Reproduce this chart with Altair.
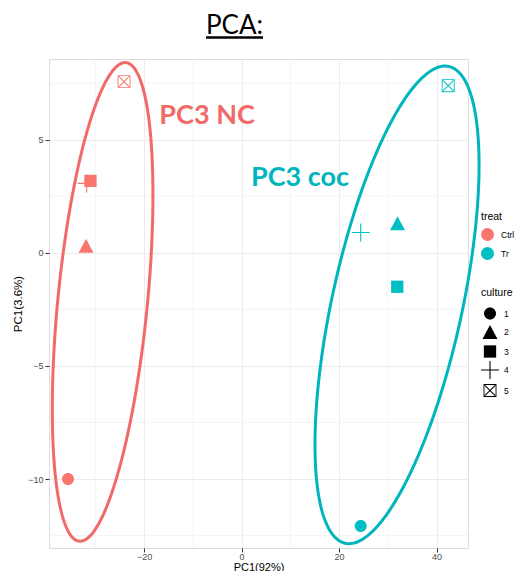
import altair as alt
import numpy as np
import pandas as pd

# ---- data ----
cultures = ["1", "2", "3", "4", "5"]
treats = ["Ctrl", "Tr"]
ctrl_pc1 = [-35.6, -31.9, -31.0, -31.75, -24.1]
ctrl_pc2 = [-10.0, 0.31, 3.18, 3.07, 7.57]
tr_pc1 = [24.45, 32.0, 31.95, 24.45, 42.4]
tr_pc2 = [-12.08, 1.31, -1.50, 0.90, 7.39]

treat_colors = ["#F8766D", "#00BFC4"]

# hand-drawn ellipses (center, semi-major vector, semi-minor vector) in data units
ell_group = ["Ctrl", "Tr"]
ell_color = ["#F26A67", "#00B5BD"]
ell_cx = [-28.5, 31.9]
ell_cy = [-2.17, -2.30]
ell_ax = [4.78, 10.63]
ell_ay = [10.58, 10.54]
ell_bx = [9.15, 13.05]
ell_by = [-0.19, -0.61]

# annotations
ann_text = ["PC3 NC", "PC3 coc"]
ann_x = [-16.86, 1.95]
ann_y = [5.69, 2.95]
ann_color = ["#F26A67", "#00B5BD"]

title_text = ["PCA:"]

x_major = [-20, 0, 20, 40]
x_minor = [-30, -10, 10, 30]
y_major = [-10, -5, 0, 5]
y_minor = [-12.5, -7.5, -2.5, 2.5, 7.5]
x_domain = [-39.5, 46.46]
y_domain = [-13.05, 8.57]

# ---- tables ----
pts = pd.DataFrame({
    "PC1": ctrl_pc1 + tr_pc1,
    "PC2": ctrl_pc2 + tr_pc2,
    "treat": ["Ctrl"] * 5 + ["Tr"] * 5,
    "culture": cultures + cultures,
})

t = np.linspace(0, 2 * np.pi, 241)
rows = []
for i, g in enumerate(ell_group):
    for k, tt in enumerate(t):
        rows.append({
            "g": g, "col": ell_color[i], "k": k,
            "PC1": ell_cx[i] + ell_ax[i] * np.cos(tt) + ell_bx[i] * np.sin(tt),
            "PC2": ell_cy[i] + ell_ay[i] * np.cos(tt) + ell_by[i] * np.sin(tt),
        })
ell = pd.DataFrame(rows)

ann = pd.DataFrame({"txt": ann_text, "PC1": ann_x, "PC2": ann_y, "col": ann_color})

shape_paths = [
    "M-0.667,0A0.667,0.667,0,1,1,0.667,0A0.667,0.667,0,1,1,-0.667,0Z",
    "M0,-0.78L0.833,0.78L-0.833,0.78Z",
    "M-0.683,-0.683L0.683,-0.683L0.683,0.683L-0.683,0.683Z",
    "M-1,-0.06L1,-0.06L1,0.06L-1,0.06ZM-0.06,-1L0.06,-1L0.06,1L-0.06,1Z",
    "M-0.72,-0.72L0.72,-0.72L0.72,0.72L-0.72,0.72Z"
    "M-0.62,-0.62L-0.62,0.62L0.62,0.62L0.62,-0.62Z"
    "M-0.62,-0.54L-0.54,-0.62L0.62,0.54L0.54,0.62Z"
    "M0.54,-0.62L0.62,-0.54L-0.54,0.62L-0.62,0.54Z",
]

xs = alt.Scale(domain=x_domain, nice=False, zero=False)
ys = alt.Scale(domain=y_domain, nice=False, zero=False)

FONT = "Liberation Sans"

xaxis = alt.Axis(values=x_major, grid=True, gridColor="#EBEBEB", gridWidth=1,
                 domain=False, tickSize=4, tickColor="#333333", labelFontSize=9,
                 labelColor="#4D4D4D", labelPadding=0, labelFont=FONT,
                 title="PC1(92%)", titleFont=FONT, titleFontSize=11,
                 titleFontWeight="normal", titleColor="black", titlePadding=0)
yaxis = alt.Axis(values=y_major, grid=True, gridColor="#EBEBEB", gridWidth=1,
                 domain=False, tickSize=4, tickColor="#333333", labelFontSize=9,
                 labelColor="#4D4D4D", labelPadding=2, labelFont=FONT,
                 title="PC1(3.6%)", titleFont=FONT, titleFontSize=11.5,
                 titleFontWeight="normal", titleColor="black", titlePadding=4)

base = alt.Chart(pts)

gx = alt.Chart(pd.DataFrame({"v": x_minor})).mark_rule(color="#EFEFEF", strokeWidth=0.7).encode(
    x=alt.X("v:Q", scale=xs, axis=xaxis))
gy = alt.Chart(pd.DataFrame({"v": y_minor})).mark_rule(color="#EFEFEF", strokeWidth=0.7).encode(
    y=alt.Y("v:Q", scale=ys, axis=yaxis))

ellipses = alt.Chart(ell).mark_line(strokeWidth=3, clip=False).encode(
    x=alt.X("PC1:Q", scale=xs),
    y=alt.Y("PC2:Q", scale=ys),
    detail="g:N",
    order="k:Q",
    color=alt.Color("col:N", scale=None),
)

points = base.mark_point(filled=True, size=324, opacity=1, strokeWidth=0).encode(
    x=alt.X("PC1:Q", scale=xs),
    y=alt.Y("PC2:Q", scale=ys),
    color=alt.Color("treat:N", scale=alt.Scale(domain=treats, range=treat_colors),
                    legend=alt.Legend(title="treat", orient="none", legendX=432, legendY=152.5,
                                      symbolType="circle", symbolSize=169, rowPadding=6,
                                      labelFontSize=8.5, labelFont=FONT, labelOffset=7,
                                      labelColor="black",
                                      titleFontSize=10.5, titleFont=FONT, titleFontWeight="normal",
                                      titleColor="black",
                                      titlePadding=6, symbolStrokeWidth=0, symbolOpacity=1)),
    shape=alt.Shape("culture:N", scale=alt.Scale(domain=cultures, range=shape_paths),
                    legend=alt.Legend(title="culture", orient="none", legendX=432, legendY=229,
                                      symbolSize=324, rowPadding=2.5, symbolFillColor="black",
                                      symbolStrokeWidth=0, symbolOpacity=1,
                                      labelFontSize=8.5, labelFont=FONT, labelOffset=5,
                                      labelColor="black",
                                      titleFontSize=10.5, titleFont=FONT, titleFontWeight="normal",
                                      titleColor="black",
                                      titlePadding=6)),
)

labels = alt.Chart(ann).mark_text(font="Lato", fontWeight="bold", fontSize=27,
                                  align="left", baseline="alphabetic").encode(
    x=alt.X("PC1:Q", scale=xs),
    y=alt.Y("PC2:Q", scale=ys),
    text="txt:N",
    color=alt.Color("col:N", scale=None),
)

title = alt.Chart(pd.DataFrame({"txt": title_text})).mark_text(
    font="Lato", fontSize=26, color="black", align="center", baseline="alphabetic"
).encode(x=alt.value(185.5), y=alt.value(-25), text="txt:N")

underline = alt.Chart(pd.DataFrame({"a": [0]})).mark_rule(color="black", strokeWidth=2.5).encode(
    x=alt.value(157), x2=alt.value(214), y=alt.value(-21.5))

chart = alt.layer(gx, gy, ellipses, points, labels, title, underline).resolve_scale(
    color="independent"
).properties(
    width=419, height=489,
    padding={"left": 41, "top": 51, "right": 47, "bottom": 23},
    autosize="none",
).configure_view(stroke="#333333", strokeWidth=1.1).configure(background="white")

chart.save("out.html", embed_options={"renderer": "svg", "actions": False})
